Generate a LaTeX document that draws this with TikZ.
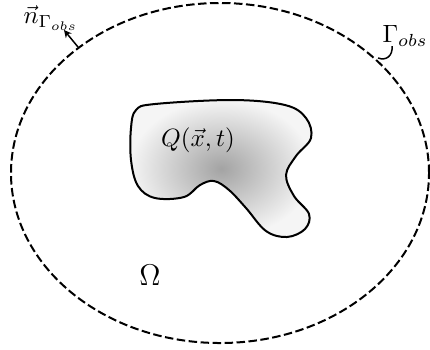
\documentclass[tikz,border=0pt]{standalone}
\usetikzlibrary{arrows.meta}
\begin{document}
\begin{tikzpicture}[x=0.4pt,y=-0.4pt,
  bnd/.style={line width=0.8pt,dash pattern=on 3.4pt off 1.4pt},
  blob/.style={line width=0.8pt,inner color=gray!72,outer color=gray!8},
  lbl/.style={inner sep=0pt}]
\useasboundingbox (0,0) rectangle (430,349);
% boundary
\draw[bnd] (220,173) ellipse [x radius=83.6pt, y radius=68pt];
% source region
\shade[blob,draw=black] plot[smooth cycle,tension=0.6] coordinates {
 (136,110) (155,104) (233,100) (285,105) (306,118) (311,138) (296,156)
 (286,175) (294,196) (309,214) (305,229) (287,237) (266,231) (246,208)
 (229,190) (214,181) (200,185) (184,197) (155,198) (138,186) (131,160) (131,128)};
\node[lbl] (q) at (198,140) {$Q(\vec{x},t)$};
\node[lbl] (om) at (150,275) {\large$\Omega$};
% normal
\coordinate (nb) at (78,47);
\coordinate (nt) at (64,30);
\draw[line width=0.6pt,-{Stealth[length=3pt,width=3pt]}] (nb) -- (nt);
\node[lbl] (nl) at (51,18) {$\vec{n}_{\Gamma_{obs}}$};
% Gamma label
\node[lbl] (gl) at (405,36) {$\Gamma_{obs}$};
\coordinate (ge) at (378,58);
\draw[line width=0.6pt] (392,46) .. controls (393,56) and (386,61) .. (ge);
\end{tikzpicture}
\end{document}
